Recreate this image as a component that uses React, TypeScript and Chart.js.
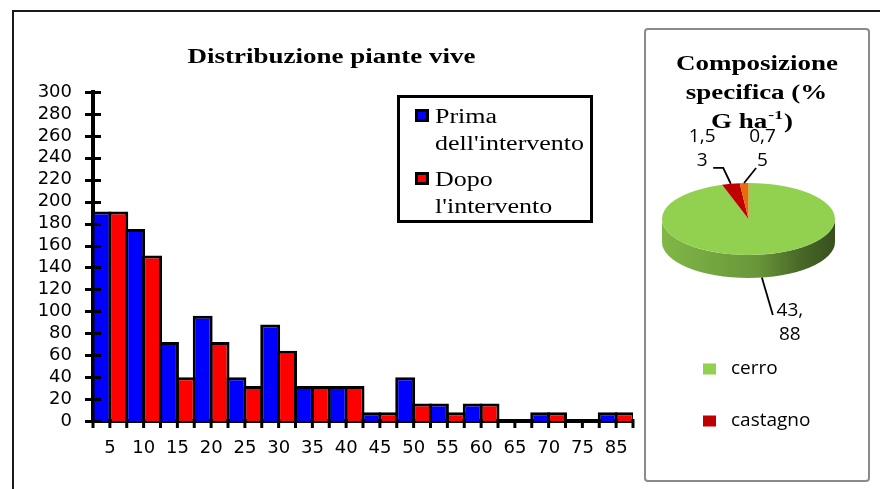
import { useEffect, useRef } from 'react';
import { Chart, registerables } from 'chart.js';

Chart.register(...registerables);

// ---------- data ----------
const categories = ['5', '10', '15', '20', '25', '30', '35', '40', '45', '50', '55', '60', '65', '70', '75', '85'];
const primaValues = [191, 175, 72, 96, 40, 88, 32, 32, 8, 40, 16, 16, 0, 8, 0, 8];
const dopoValues = [191, 151, 40, 72, 32, 64, 32, 32, 8, 16, 8, 16, 0, 8, 0, 8];
const seriesLabels = ["Prima dell'intervento", "Dopo l'intervento"];
const seriesColors = ['#0000ff', '#ff0000'];
const yMin = 0;
const yMax = 300;
const yStep = 20;
const barTitle = 'Distribuzione piante vive';

const speciesLabels = ['cerro', 'castagno', 'altre specie'];
const speciesValues = [43.88, 1.53, 0.75];
const speciesColors = ['#92d050', '#c00000', '#e46c0a'];
const pieTitleLines = ['Composizione', 'specifica (%'];
const pieTitleUnit = ['G ha', '-1', ')'];

// ---------- helpers ----------
const SERIF = '"Liberation Serif", "Times New Roman", serif';
const SANS_TICK = '"DejaVu Sans", sans-serif';
const SANS_PIE = '"Open Sans", sans-serif';

function shade(hex: string, f: number) {
  const n = parseInt(hex.slice(1), 16);
  const r = Math.round(((n >> 16) & 255) * f);
  const g = Math.round(((n >> 8) & 255) * f);
  const b = Math.round((n & 255) * f);
  return `rgb(${r},${g},${b})`;
}

function stretchedText(ctx: CanvasRenderingContext2D, text: string, x: number, y: number, sx: number, align: CanvasTextAlign) {
  ctx.save();
  ctx.translate(x, y);
  ctx.scale(sx, 1);
  ctx.textAlign = align;
  ctx.fillText(text, 0, 0);
  ctx.restore();
}

function wrapWords(ctx: CanvasRenderingContext2D, text: string, maxW: number, sx: number) {
  const words = text.split(' ');
  const lines: string[] = [];
  let cur = '';
  for (const w of words) {
    const t = cur ? cur + ' ' + w : w;
    if (cur && ctx.measureText(t).width * sx > maxW) {
      lines.push(cur);
      cur = w;
    } else cur = t;
  }
  if (cur) lines.push(cur);
  return lines;
}

// ---------- bar chart decorations ----------
const barDecor = {
  id: 'barDecor',
  afterDatasetsDraw(chart: any) {
    const ctx: CanvasRenderingContext2D = chart.ctx;
    const xs = chart.scales.x;
    const ys = chart.scales.y;
    const area = chart.chartArea;
    ctx.save();
    ctx.strokeStyle = '#000';
    ctx.lineWidth = 3;
    // y cross ticks
    for (const t of ys.ticks) {
      const py = Math.round(ys.getPixelForValue(t.value)) + 0.5;
      ctx.beginPath();
      ctx.moveTo(area.left - 8, py);
      ctx.lineTo(area.left + 8, py);
      ctx.stroke();
    }
    // x ticks at each bar boundary
    const n = chart.data.labels.length;
    const nSeries = chart.data.datasets.length;
    const cw = (xs.right - xs.left) / n;
    for (let i = 0; i <= n * nSeries; i++) {
      const px = xs.left + (i * cw) / nSeries;
      ctx.beginPath();
      ctx.moveTo(px, area.bottom - 2);
      ctx.lineTo(px, area.bottom + 7);
      ctx.stroke();
    }
    ctx.restore();
  },
  afterDraw(chart: any) {
    const ctx: CanvasRenderingContext2D = chart.ctx;
    ctx.save();
    ctx.fillStyle = '#000';
    ctx.textBaseline = 'alphabetic';
    // title
    ctx.font = `bold 20px ${SERIF}`;
    stretchedText(ctx, barTitle, 331.5, 63, 1.35, 'center');

    // legend
    const bx = 397, by = 95, bw = 196, bh = 128;
    ctx.lineWidth = 3;
    ctx.strokeStyle = '#000';
    ctx.strokeRect(bx + 1.5, by + 1.5, bw - 3, bh - 3);
    ctx.font = `20px ${SERIF}`;
    const sx = 1.3;
    let baseline = 123;
    chart.data.datasets.forEach((ds: any) => {
      const lines = wrapWords(ctx, ds.label, 155, sx);
      ctx.fillStyle = '#000';
      ctx.fillRect(415, baseline - 14, 14, 13);
      ctx.fillStyle = ds.backgroundColor;
      ctx.fillRect(418, baseline - 11, 8, 7);
      ctx.fillStyle = '#000';
      lines.forEach((ln, j) => {
        stretchedText(ctx, ln, 435, baseline + j * 26.5, sx, 'left');
      });
      baseline += 63;
    });
    ctx.restore();
  },
};

// ---------- pie 3D + decorations ----------
const RY = 36;
const DEPTH = 23;

const pie3d = {
  id: 'pie3d',
  beforeDatasetsDraw(chart: any) {
    const ctx: CanvasRenderingContext2D = chart.ctx;
    const meta = chart.getDatasetMeta(0);
    const a0 = meta.data[0];
    const cx = a0.x, cy = a0.y, r = a0.outerRadius;
    const k = RY / r;
    const D = DEPTH / k;
    ctx.save();
    ctx.translate(cx, cy);
    ctx.scale(1, k);
    ctx.translate(-cx, -cy);
    const colors = chart.data.datasets[0].backgroundColor;
    meta.data.forEach((arc: any, i: number) => {
      const base = colors[i];
      const grad = ctx.createLinearGradient(cx - r, 0, cx + r, 0);
      grad.addColorStop(0, shade(base, 0.88));
      grad.addColorStop(0.55, shade(base, 0.72));
      grad.addColorStop(0.8, shade(base, 0.5));
      grad.addColorStop(1, shade(base, 0.38));
      for (const sh of [-2 * Math.PI, 0, 2 * Math.PI]) {
        const s = Math.max(arc.startAngle + sh, 0);
        const e = Math.min(arc.endAngle + sh, Math.PI);
        if (e <= s) continue;
        ctx.beginPath();
        ctx.arc(cx, cy, r, s, e);
        ctx.arc(cx, cy + D, r, e, s, true);
        ctx.closePath();
        ctx.fillStyle = grad;
        ctx.fill();
      }
    });
  },
  afterDatasetsDraw(chart: any) {
    chart.ctx.restore();
  },
};

// label layout offsets relative to each slice's outer-edge anchor
const labelLayout = [
  { leader: [[11, 37.4]], text: [28, 33.4] },
  { leader: [[-7.6, -15.8], [-17.6, -15.8]], text: [-28.6, -46.8] },
  { leader: [[12, -15]], text: [18.4, -46] },
];

const pieDecor = {
  id: 'pieDecor',
  afterDraw(chart: any) {
    const ctx: CanvasRenderingContext2D = chart.ctx;
    const meta = chart.getDatasetMeta(0);
    const a0 = meta.data[0];
    const cx = a0.x, cy = a0.y, r = a0.outerRadius;
    ctx.save();
    // title
    ctx.fillStyle = '#000';
    ctx.textBaseline = 'alphabetic';
    ctx.font = `bold 20px ${SERIF}`;
    const tsx = 1.35;
    stretchedText(ctx, pieTitleLines[0], 757, 70, tsx, 'center');
    stretchedText(ctx, pieTitleLines[1], 756.5, 99, tsx, 'center');
    const wA = ctx.measureText(pieTitleUnit[0]).width * tsx;
    const wC = ctx.measureText(pieTitleUnit[2]).width * tsx;
    ctx.font = `bold 13px ${SERIF}`;
    const wB = ctx.measureText(pieTitleUnit[1]).width * tsx;
    const x0 = 751 - (wA + wB + wC) / 2;
    ctx.font = `bold 20px ${SERIF}`;
    stretchedText(ctx, pieTitleUnit[0], x0, 128, tsx, 'left');
    ctx.font = `bold 13px ${SERIF}`;
    stretchedText(ctx, pieTitleUnit[1], x0 + wA + 1, 119, tsx, 'left');
    ctx.font = `bold 20px ${SERIF}`;
    stretchedText(ctx, pieTitleUnit[2], x0 + wA + wB + 2, 128, tsx, 'left');

    // data labels with leader lines
    const values = chart.data.datasets[0].data;
    ctx.font = `19px ${SANS_PIE}`;
    ctx.textAlign = 'center';
    ctx.textBaseline = 'middle';
    meta.data.forEach((arc: any, i: number) => {
      const m = (arc.startAngle + arc.endAngle) / 2;
      const ax = cx + r * Math.cos(m);
      const ay = cy + RY * Math.sin(m) + (Math.sin(m) > 0 ? DEPTH : 0);
      const lay = labelLayout[i];
      ctx.strokeStyle = '#000';
      ctx.lineWidth = 1.8;
      ctx.beginPath();
      ctx.moveTo(ax, ay);
      for (const p of lay.leader) ctx.lineTo(ax + p[0], ay + p[1]);
      ctx.stroke();
      const txt = String(values[i]).replace('.', ',');
      const lines: string[] = [];
      for (let j = 0; j < txt.length; j += 3) lines.push(txt.slice(j, j + 3));
      ctx.fillStyle = '#000';
      lines.forEach((ln, j) => ctx.fillText(ln, ax + lay.text[0], ay + lay.text[1] + j * 24));
    });

    // legend (Excel's legend area only fits the first entries)
    ctx.save();
    ctx.beginPath();
    ctx.rect(646, 340, 222, 108);
    ctx.clip();
    ctx.textAlign = 'left';
    ctx.textBaseline = 'middle';
    chart.data.labels.forEach((lab: string, i: number) => {
      const yc = 369 + i * 52;
      ctx.fillStyle = chart.data.datasets[0].backgroundColor[i];
      ctx.fillRect(703, yc - 5.5, 13, 11);
      ctx.fillStyle = '#000';
      ctx.fillText(lab, 731, yc);
    });
    ctx.restore();
    ctx.restore();
  },
};

export default function App() {
  const barRef = useRef<HTMLCanvasElement>(null);
  const pieRef = useRef<HTMLCanvasElement>(null);

  useEffect(() => {
    const bar = new Chart(barRef.current as HTMLCanvasElement, {
      type: 'bar',
      data: {
        labels: categories,
        datasets: [
          {
            label: seriesLabels[0],
            data: primaValues,
            backgroundColor: seriesColors[0],
            borderColor: '#000',
            borderWidth: 3,
            borderSkipped: 'bottom',
            categoryPercentage: 1,
            barPercentage: 1.18,
          },
          {
            label: seriesLabels[1],
            data: dopoValues,
            backgroundColor: seriesColors[1],
            borderColor: '#000',
            borderWidth: 3,
            borderSkipped: 'bottom',
            categoryPercentage: 1,
            barPercentage: 1.18,
          },
        ],
      },
      options: {
        responsive: false,
        animation: false,
        layout: { padding: { top: 92, right: 30, left: 0, bottom: 0 } },
        plugins: {
          legend: { display: false },
          title: { display: false },
          tooltip: { enabled: false },
        },
        scales: {
          x: {
            grid: { display: false, drawTicks: false },
            border: { display: true, color: '#000', width: 4 },
            ticks: {
              color: '#000',
              font: { family: SANS_TICK, size: 18 },
              padding: 17,
              maxRotation: 0,
              autoSkip: false,
            },
            afterFit: (s: any) => {
              s.height = 68;
            },
          },
          y: {
            min: yMin,
            max: yMax,
            grid: { display: false, drawTicks: false },
            border: { display: true, color: '#000', width: 4 },
            ticks: {
              stepSize: yStep,
              color: '#000',
              font: { family: SANS_TICK, size: 18 },
              padding: 21,
              autoSkip: false,
            },
            afterFit: (s: any) => {
              s.width = 93;
            },
          },
        },
      } as any,
      plugins: [barDecor],
    });

    const pie = new Chart(pieRef.current as HTMLCanvasElement, {
      type: 'pie',
      data: {
        labels: speciesLabels,
        datasets: [
          {
            data: speciesValues,
            backgroundColor: speciesColors,
            borderWidth: 0,
          },
        ],
      },
      options: {
        responsive: false,
        animation: false,
        layout: { padding: { left: 662, right: 45, top: 132.5, bottom: 183.5 } },
        plugins: { legend: { display: false }, tooltip: { enabled: false } },
      } as any,
      plugins: [pie3d, pieDecor],
    });

    return () => {
      bar.destroy();
      pie.destroy();
    };
  }, []);

  return (
    <div
      style={{
        position: 'absolute',
        left: 0,
        top: 0,
        width: 880,
        height: 489,
        overflow: 'hidden',
        background: '#fff',
      }}
    >
      <div
        style={{
          position: 'absolute',
          left: 12,
          top: 10,
          width: 1000,
          height: 1000,
          border: '2px solid #1a1a1a',
        }}
      />
      <canvas ref={barRef} width={663} height={489} style={{ position: 'absolute', left: 0, top: 0 }} />
      <div
        style={{
          position: 'absolute',
          left: 644,
          top: 28,
          width: 226,
          height: 454,
          boxSizing: 'border-box',
          border: '2px solid #8a8a8a',
          borderRadius: 4,
          background: '#fff',
        }}
      />
      <canvas ref={pieRef} width={880} height={489} style={{ position: 'absolute', left: 0, top: 0 }} />
    </div>
  );
}
